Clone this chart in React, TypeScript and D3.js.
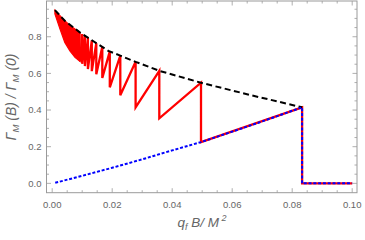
import React, {useRef, useEffect} from 'react';
import * as d3 from 'd3';

// sawtooth jump points (x, top on dashed envelope, bottom after the drop)
const jumpX = [0.0833, 0.0496, 0.0357, 0.0278, 0.0227, 0.0192, 0.0167, 0.0147, 0.0132, 0.0119, 0.0109, 0.01, 0.0093];
const jumpTop = [0.415, 0.549, 0.614, 0.663, 0.697, 0.72, 0.745, 0.765, 0.78, 0.793, 0.805, 0.815, 0.823];
const jumpBottom = [0.0, 0.225, 0.355, 0.415, 0.481, 0.524, 0.575, 0.595, 0.612, 0.624, 0.64, 0.652, 0.665];

// dense part of the red curve (teeth too close to separate)
const denseX = [0.0009, 0.0026, 0.0042, 0.0059, 0.0076, 0.0093];
const denseTop = [0.945, 0.915, 0.887, 0.862, 0.842, 0.823];
const denseBottom = [0.924, 0.842, 0.769, 0.723, 0.687, 0.665];

// black dashed envelope
const dashX = [0.0009, 0.0042, 0.0092, 0.015, 0.0187, 0.0227, 0.0278, 0.0357, 0.0496, 0.066, 0.0833];
const dashV = [0.945, 0.887, 0.824, 0.762, 0.723, 0.697, 0.663, 0.614, 0.549, 0.482, 0.415];

// blue dotted curve
const blueX = [0.001, 0.01, 0.02, 0.03, 0.04, 0.0496, 0.06, 0.07, 0.0833, 0.0833, 0.1];
const blueV = [0.003, 0.041, 0.085, 0.131, 0.18, 0.225, 0.282, 0.338, 0.415, 0, 0];

const xTicks = [0, 0.02, 0.04, 0.06, 0.08, 0.1];
const yTicks = [0, 0.2, 0.4, 0.6, 0.8];

function App() {
  const canvas = useRef<HTMLDivElement>(null);

  const width = 365;
  const height = 240;

  const xScale = d3.scaleLinear().domain([-0.0019, 0.1016]).range([46.5, 357]);
  const yScale = d3.scaleLinear().domain([-0.051, 0.995]).range([192.7, 1]);

  useEffect(() => {
    const root = d3.select(canvas.current);
    root.selectAll('*').remove();
    const svg = root.append('svg')
      .attr('width', width)
      .attr('height', height)
      .style('position', 'absolute')
      .style('left', '0px')
      .style('top', '0px')
      .style('font-family', 'Liberation Sans, Arial, sans-serif');

    const [x0, x1] = xScale.range();
    const [y0, y1] = yScale.range();
    const frameColor = '#9a9a9a';
    const textColor = '#666';

    // ticks on all four sides, pointing inward
    const xMinor = d3.range(0, 0.1001, 0.005);
    const yMinor = d3.range(0, 0.951, 0.05);
    const isMajorX = (v: number) => xTicks.some(t => Math.abs(t - v) < 1e-6);
    const isMajorY = (v: number) => yTicks.some(t => Math.abs(t - v) < 1e-6);
    const tg = svg.append('g').attr('stroke', frameColor).attr('stroke-width', 0.8);
    xMinor.forEach(v => {
      const len = isMajorX(v) ? 4.5 : 2.5;
      tg.append('line').attr('x1', xScale(v)).attr('x2', xScale(v)).attr('y1', y0).attr('y2', y0 - len);
      tg.append('line').attr('x1', xScale(v)).attr('x2', xScale(v)).attr('y1', y1).attr('y2', y1 + len);
    });
    yMinor.forEach(v => {
      const len = isMajorY(v) ? 4.5 : 2.5;
      tg.append('line').attr('y1', yScale(v)).attr('y2', yScale(v)).attr('x1', x0).attr('x2', x0 + len);
      tg.append('line').attr('y1', yScale(v)).attr('y2', yScale(v)).attr('x1', x1).attr('x2', x1 - len);
    });

    svg.append('rect')
      .attr('x', x0).attr('y', y1)
      .attr('width', x1 - x0).attr('height', y0 - y1)
      .attr('fill', 'none').attr('stroke', frameColor).attr('stroke-width', 1);

    svg.selectAll('text.xt').data(xTicks).enter().append('text')
      .attr('class', 'xt')
      .attr('x', d => xScale(d))
      .attr('y', y0 + 15)
      .attr('text-anchor', 'middle')
      .attr('font-size', 9.5)
      .attr('fill', textColor)
      .text(d => d.toFixed(2));

    svg.selectAll('text.yt').data(yTicks).enter().append('text')
      .attr('class', 'yt')
      .attr('x', x0 - 5)
      .attr('y', d => yScale(d) + 3.4)
      .attr('text-anchor', 'end')
      .attr('font-size', 9.5)
      .attr('fill', textColor)
      .text(d => d.toFixed(1));

    // red dense region
    const area = d3.area<number>()
      .x(i => xScale(denseX[i]))
      .y0(i => yScale(denseBottom[i]))
      .y1(i => yScale(denseTop[i]));
    svg.append('path')
      .attr('d', area(d3.range(denseX.length)))
      .attr('fill', '#ff0000')
      .attr('stroke', '#ff0000')
      .attr('stroke-width', 1.2);

    // red sawtooth
    const pts: [number, number][] = [];
    const last = jumpX.length - 1;
    pts.push([jumpX[last], jumpBottom[last]]);
    for (let i = last - 1; i >= 0; i--) {
      pts.push([jumpX[i], jumpTop[i]]);
      pts.push([jumpX[i], jumpBottom[i]]);
    }
    pts.push([0.1, 0]);
    const line = d3.line<[number, number]>()
      .x(d => xScale(d[0]))
      .y(d => yScale(d[1]));
    svg.append('path')
      .attr('d', line(pts))
      .attr('fill', 'none')
      .attr('stroke', '#ff0000')
      .attr('stroke-width', 2.3)
      .attr('stroke-linejoin', 'miter');

    // black dashed
    svg.append('path')
      .attr('d', line(dashX.map((x, i) => [x, dashV[i]] as [number, number])))
      .attr('fill', 'none')
      .attr('stroke', '#000')
      .attr('stroke-width', 2)
      .attr('stroke-dasharray', '6,3.5');

    // blue dotted
    svg.append('path')
      .attr('d', line(blueX.map((x, i) => [x, blueV[i]] as [number, number])))
      .attr('fill', 'none')
      .attr('stroke', '#0000ff')
      .attr('stroke-width', 2)
      .attr('stroke-dasharray', '3,1.8');

    // axis labels
    const xl = svg.append('text')
      .attr('x', 202)
      .attr('y', 227)
      .attr('text-anchor', 'middle')
      .attr('font-size', 13.5)
      .attr('font-style', 'italic')
      .attr('fill', textColor);
    xl.append('tspan').text('q');
    xl.append('tspan').attr('font-size', 9).attr('dy', 3).text('f');
    xl.append('tspan').attr('dy', -3).text(' B/ M');
    xl.append('tspan').attr('font-size', 9).attr('dy', -6).text(' 2');

    const yl = svg.append('text')
      .attr('transform', 'translate(16, 97) rotate(-90)')
      .attr('text-anchor', 'middle')
      .attr('font-size', 14)
      .attr('font-style', 'italic')
      .attr('fill', textColor);
    yl.append('tspan').text('Γ');
    yl.append('tspan').attr('font-size', 9.5).attr('dy', 3).text('M');
    yl.append('tspan').attr('dy', -3).text(' (B) / Γ');
    yl.append('tspan').attr('font-size', 9.5).attr('dy', 3).text('M');
    yl.append('tspan').attr('dy', -3).text(' (0)');
  }, []);

  return <div className="d3-canvas" ref={canvas}></div>;
}

export default App;
